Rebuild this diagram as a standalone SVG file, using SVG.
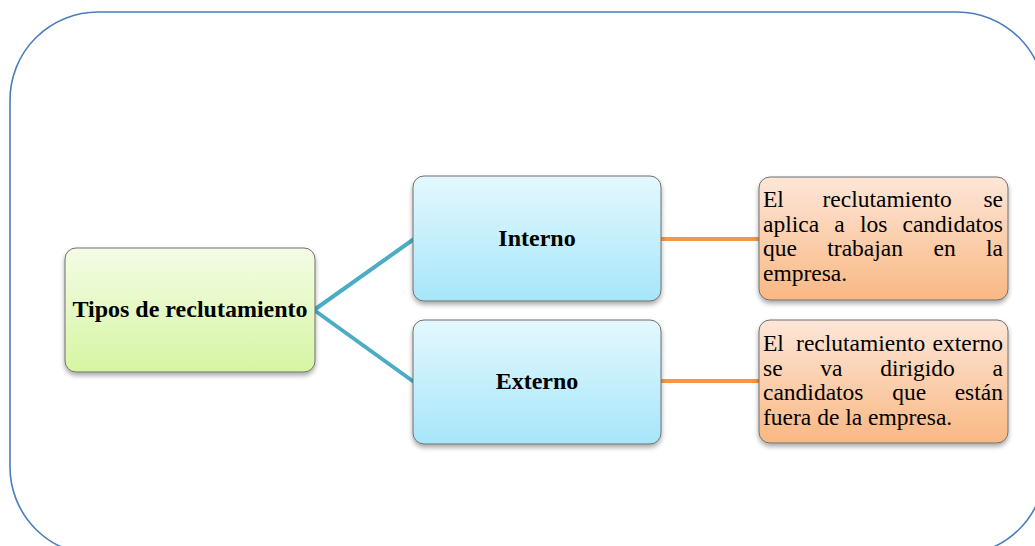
<svg xmlns="http://www.w3.org/2000/svg" width="1035" height="546" viewBox="0 0 1035 546">
  <style>
    .frame { fill: none; stroke: #4a7ebb; stroke-width: 1.6; }
    .box { stroke: #6f6f6f; stroke-width: 1; filter: url(#shadow); }
    .title { font-family: "Liberation Serif", "Times New Roman", serif; font-size: 24px; font-weight: bold; fill: #000; text-anchor: middle; }
    .body { font-family: "Liberation Serif", "Times New Roman", serif; font-size: 23.5px; fill: #000; }
    .branch { stroke: #4bacc6; stroke-width: 4; fill: none; }
    .link { stroke: #f79646; stroke-width: 4; fill: none; }
  </style>
  <defs>
    <linearGradient id="gGreen" x1="0" y1="0" x2="0" y2="1">
      <stop offset="0" stop-color="#f4fce6"/>
      <stop offset="1" stop-color="#d6f5a2"/>
    </linearGradient>
    <linearGradient id="gBlue" x1="0" y1="0" x2="0" y2="1">
      <stop offset="0" stop-color="#e4f8fe"/>
      <stop offset="1" stop-color="#a6e6fa"/>
    </linearGradient>
    <linearGradient id="gOrange" x1="0" y1="0" x2="0" y2="1">
      <stop offset="0" stop-color="#fde6d8"/>
      <stop offset="1" stop-color="#f9b883"/>
    </linearGradient>
    <filter id="shadow" x="-10%" y="-10%" width="120%" height="130%">
      <feGaussianBlur in="SourceAlpha" stdDeviation="2.5"/>
      <feOffset dx="0" dy="3" result="b"/>
      <feComponentTransfer><feFuncA type="linear" slope="0.35"/></feComponentTransfer>
      <feMerge><feMergeNode/><feMergeNode in="SourceGraphic"/></feMerge>
    </filter>
  </defs>

  <rect width="1035" height="546" fill="#ffffff"/>

  <!-- outer rounded frame, partly outside the page on the right and bottom -->
  <rect class="frame" x="10" y="12" width="1035" height="543" rx="88" ry="88"/>

  <g id="connectors">
    <line class="branch" x1="314" y1="310" x2="414" y2="239"/>
    <line class="branch" x1="314" y1="310" x2="414" y2="382"/>
    <line class="link" x1="660" y1="239" x2="760" y2="239"/>
    <line class="link" x1="660" y1="381" x2="760" y2="381"/>
  </g>

  <g id="node-tipos">
    <rect class="box" x="65" y="248" width="250" height="124" rx="11" fill="url(#gGreen)"/>
    <text class="title" x="190" y="317">Tipos de reclutamiento</text>
  </g>

  <g id="node-interno">
    <rect class="box" x="413" y="176" width="248" height="125" rx="11" fill="url(#gBlue)"/>
    <text class="title" x="537" y="246">Interno</text>
  </g>

  <g id="node-externo">
    <rect class="box" x="413" y="320" width="248" height="124" rx="11" fill="url(#gBlue)"/>
    <text class="title" x="537" y="389">Externo</text>
  </g>

  <g id="node-desc-interno">
    <rect class="box" x="759" y="177" width="249" height="123" rx="11" fill="url(#gOrange)"/>
    <text class="body">
      <tspan x="763" y="207">El</tspan><tspan x="822.5" y="207">reclutamiento</tspan><tspan x="983.4" y="207">se</tspan>
      <tspan x="763" y="231.5">aplica</tspan><tspan x="834.3" y="231.5">a</tspan><tspan x="859.9" y="231.5">los</tspan><tspan x="902.5" y="231.5">candidatos</tspan>
      <tspan x="763" y="256">que</tspan><tspan x="827.3" y="256">trabajan</tspan><tspan x="933.5" y="256">en</tspan><tspan x="986" y="256">la</tspan>
      <tspan x="763" y="280.5">empresa.</tspan>
    </text>
  </g>

  <g id="node-desc-externo">
    <rect class="box" x="759" y="320" width="249" height="123" rx="11" fill="url(#gOrange)"/>
    <text class="body">
      <tspan x="763" y="351">El</tspan><tspan x="796.1" y="351">reclutamiento</tspan><tspan x="932.5" y="351">externo</tspan>
      <tspan x="763" y="375.5">se</tspan><tspan x="820.3" y="375.5">va</tspan><tspan x="880.3" y="375.5">dirigido</tspan><tspan x="992.6" y="375.5">a</tspan>
      <tspan x="763" y="400">candidatos</tspan><tspan x="892.2" y="400">que</tspan><tspan x="954.7" y="400">están</tspan>
      <tspan x="763" y="424.5">fuera de la empresa.</tspan>
    </text>
  </g>
</svg>
